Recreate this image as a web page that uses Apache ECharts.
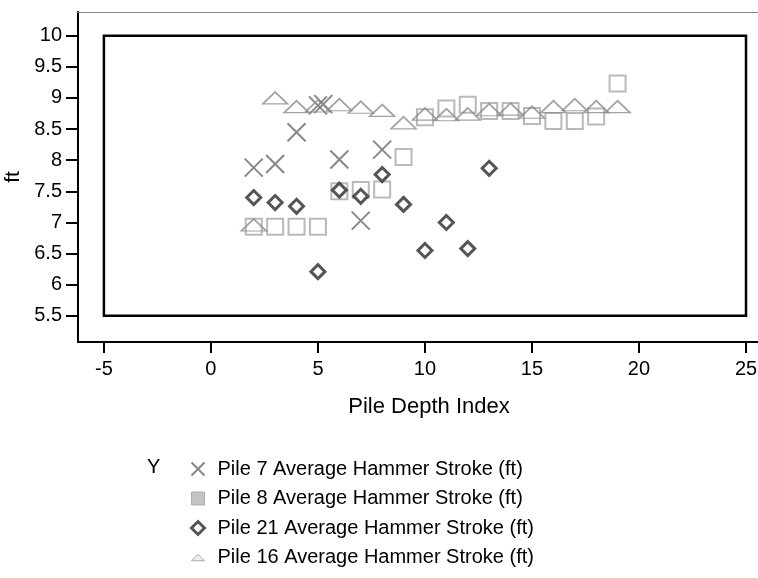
<!DOCTYPE html>
<html>
<head>
<meta charset="utf-8">
<script src="https://cdn.jsdelivr.net/npm/echarts@6/dist/echarts.min.js"></script>
<style>
  html, body { margin: 0; padding: 0; background: #fff; }
  #chart { width: 758px; height: 578px; }
</style>
</head>
<body>
<div id="chart"></div>
<script>
// Pile depth index vs. average hammer stroke (ft)
const pile7X = [2, 3, 4, 5, 5.25, 6, 7, 8];
const pile7Y = [7.88, 7.94, 8.45, 8.88, 8.9, 8.01, 7.03, 8.17];

const pile8X = [2, 3, 4, 5, 6, 7, 8, 9, 10, 11, 12, 13, 14, 15, 16, 17, 18, 19];
const pile8Y = [6.93, 6.93, 6.93, 6.93, 7.5, 7.52, 7.53, 8.05, 8.69, 8.83, 8.89, 8.79, 8.79, 8.71, 8.63, 8.63, 8.70, 9.23];

const pile21X = [2, 3, 4, 5, 6, 7, 8, 9, 10, 11, 12, 13];
const pile21Y = [7.40, 7.32, 7.26, 6.21, 7.52, 7.42, 7.77, 7.29, 6.55, 7.0, 6.58, 7.87];

const pile16X = [2, 3, 4, 5, 6, 7, 8, 9, 10, 11, 12, 13, 14, 15, 16, 17, 18, 19];
const pile16Y = [6.96, 9.0, 8.86, 8.87, 8.89, 8.85, 8.80, 8.60, 8.74, 8.73, 8.74, 8.81, 8.82, 8.77, 8.86, 8.89, 8.86, 8.86];

const xTicks = [-5, 0, 5, 10, 15, 20, 25];
const yTicks = [5.5, 6, 6.5, 7, 7.5, 8, 8.5, 9, 9.5, 10];

// reference frame drawn inside the plot (x from -5 to 25, y from 5.5 to 10)
const frameX = [-5, 25];
const frameY = [5.5, 10];

const seriesNames = [
  'Pile 7 Average Hammer Stroke (ft)',
  'Pile 8 Average Hammer Stroke (ft)',
  'Pile 21 Average Hammer Stroke (ft)',
  'Pile 16 Average Hammer Stroke (ft)'
];

const zip = (xs, ys) => xs.map((x, i) => [x, ys[i]]);

const FONT = '"Liberation Sans", Arial, sans-serif';
const crossPath = 'path://M0,0L10,10M10,0L0,10';
const trianglePath = 'path://M0,10L10,0L20,10Z';

const chart = echarts.init(document.getElementById('chart'), null, { renderer: 'canvas' });

chart.setOption({
  animation: false,
  backgroundColor: '#ffffff',
  textStyle: { fontFamily: FONT, color: '#000' },
  grid: { left: 78, right: 0, top: 12, bottom: 236, containLabel: false, outerBoundsMode: 'none' },
  xAxis: [{
    type: 'value',
    min: -6.21,
    max: 25.56,
    name: 'Pile Depth Index',
    nameLocation: 'middle',
    nameGap: 54,
    nameTextStyle: { fontFamily: FONT, fontSize: 22, color: '#000', padding: [0, 0, 0, 22] },
    axisLine: { show: true, onZero: false, lineStyle: { color: '#000', width: 2 } },
    axisTick: { show: true, length: 11, customValues: xTicks, lineStyle: { color: '#000', width: 2 } },
    axisLabel: { customValues: xTicks, margin: 17, fontFamily: FONT, fontSize: 20, color: '#000' },
    splitLine: { show: false }
  }, {
    type: 'value',
    position: 'top',
    min: -6.21,
    max: 25.56,
    axisLine: { show: true, onZero: false, lineStyle: { color: '#888', width: 1 } },
    axisTick: { show: false },
    axisLabel: { show: false },
    splitLine: { show: false }
  }],
  yAxis: {
    type: 'value',
    min: 5.08,
    max: 10.38,
    name: 'ft',
    nameLocation: 'middle',
    nameGap: 49,
    nameTextStyle: { fontFamily: FONT, fontSize: 21, color: '#000' },
    axisLine: { show: true, onZero: false, lineStyle: { color: '#000', width: 2 } },
    axisTick: { show: true, length: 12, customValues: yTicks, lineStyle: { color: '#000', width: 2 } },
    axisLabel: { customValues: yTicks, margin: 16, fontFamily: FONT, fontSize: 20, color: '#000' },
    splitLine: { show: false }
  },
  legend: {
    orient: 'vertical',
    left: 184,
    top: 454,
    itemWidth: 13,
    itemHeight: 13,
    itemGap: 9.5,
    textStyle: { fontFamily: FONT, fontSize: 20, color: '#000', lineHeight: 20, padding: [0, 0, 0, 8] },
    data: [
      { name: seriesNames[0], icon: crossPath, itemStyle: { color: 'none', borderColor: '#6a6a6a', borderWidth: 2 } },
      { name: seriesNames[1], icon: 'rect', itemStyle: { color: '#b4b4b4', borderColor: '#a0a0a0', borderWidth: 1 } },
      { name: seriesNames[2], icon: 'diamond', itemStyle: { color: '#fff', borderColor: '#2a2a2a', borderWidth: 3 } },
      { name: seriesNames[3], icon: trianglePath, itemStyle: { color: '#e6e6e6', borderColor: '#9a9a9a', borderWidth: 1 } }
    ]
  },
  graphic: [{
    type: 'text',
    left: 147,
    top: 457,
    style: { text: 'Y', font: '20px ' + FONT, fill: '#000' }
  }],
  series: [
    {
      name: seriesNames[0],
      type: 'scatter',
      symbol: crossPath,
      symbolSize: 18,
      itemStyle: { color: 'none', borderColor: '#6a6a6a', borderWidth: 2 },
      data: zip(pile7X, pile7Y),
      markArea: {
        silent: true,
        itemStyle: { color: 'rgba(0,0,0,0)', borderColor: '#000', borderWidth: 2.5 },
        data: [[{ coord: [frameX[0], frameY[1]] }, { coord: [frameX[1], frameY[0]] }]]
      }
    },
    {
      name: seriesNames[1],
      type: 'scatter',
      symbol: 'rect',
      symbolSize: 16,
      itemStyle: { color: 'none', borderColor: '#a8a8a8', borderWidth: 2 },
      data: zip(pile8X, pile8Y)
    },
    {
      name: seriesNames[3],
      type: 'scatter',
      symbol: trianglePath,
      symbolSize: [25, 12],
      itemStyle: { color: 'none', borderColor: '#8c8c8c', borderWidth: 1.6 },
      data: zip(pile16X, pile16Y)
    },
    {
      name: seriesNames[2],
      type: 'scatter',
      symbol: 'diamond',
      symbolSize: 14,
      itemStyle: { color: '#fff', borderColor: '#2a2a2a', borderWidth: 3 },
      data: zip(pile21X, pile21Y)
    }
  ]
});
</script>
</body>
</html>
